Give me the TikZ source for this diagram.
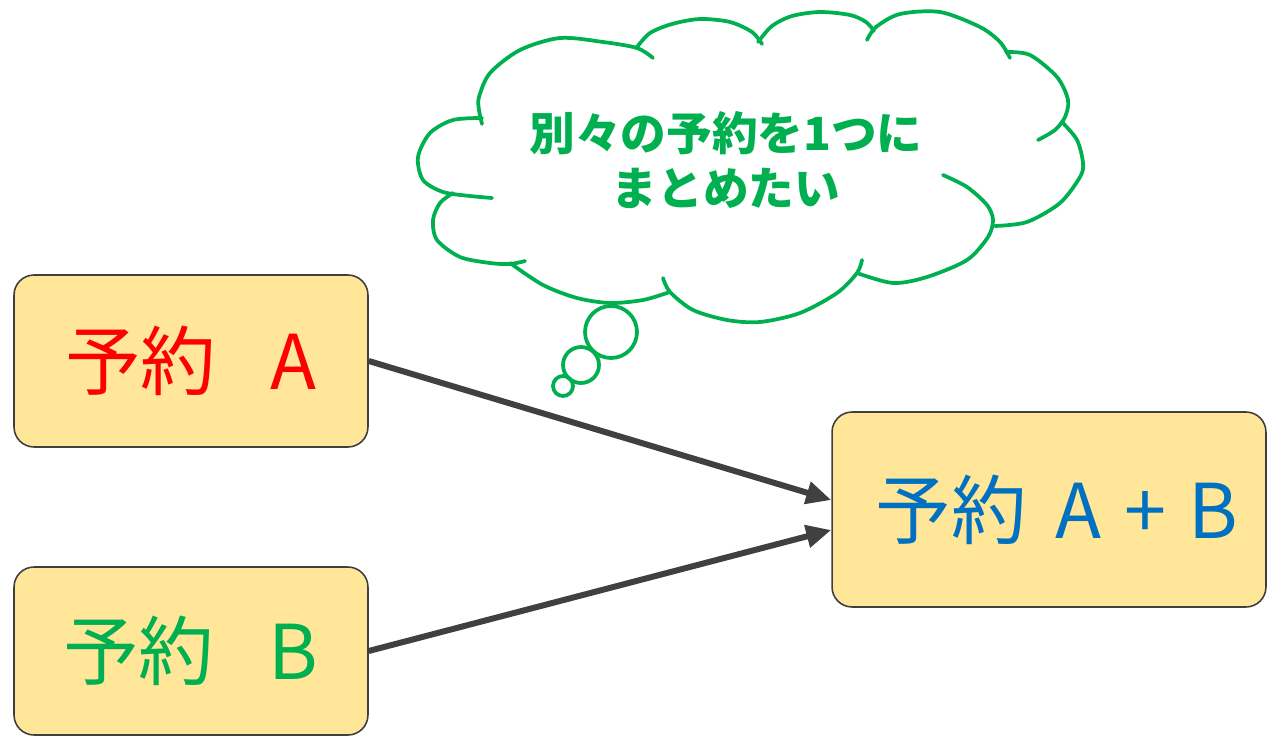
\documentclass[tikz,border=0pt]{standalone}
\usepackage{fontspec}
\setmainfont{Noto Sans CJK JP}
\usetikzlibrary{arrows.meta}
\definecolor{boxfill}{HTML}{FFE699}
\definecolor{boxline}{HTML}{3F3F3F}
\definecolor{arrowgray}{HTML}{404040}
\definecolor{cloudgreen}{HTML}{00B050}
\definecolor{txtred}{HTML}{FF0000}
\definecolor{txtblue}{HTML}{0070C0}
\begin{document}
\begin{tikzpicture}[x=0.02cm,y=-0.02cm,
  box/.style={draw=boxline,fill=boxfill,line width=0.9pt,rounded corners=0.4cm,inner sep=0pt,font=\fontsize{43}{50}\selectfont},
  arr/.style={draw=arrowgray,line width=0.12cm,-{Triangle[length=0.5cm,width=0.44cm]}},
  cloudline/.style={draw=cloudgreen,line width=0.075cm,line cap=round},
  cloudtext/.style={text=cloudgreen,align=center,inner sep=0pt,font=\bfseries\fontsize{26}{31.3}\selectfont}
  ]
\useasboundingbox (0,0) rectangle (1267,736);

% boxes
\node[box,minimum width=7.08cm,minimum height=3.44cm,text=txtred] (a) at (191,361) {予約\hspace{0.72em}A};
\node[box,minimum width=7.08cm,minimum height=3.36cm,text=cloudgreen] (b) at (191,651) {予約\hspace{0.72em}B};
\node[box,minimum width=8.68cm,minimum height=3.9cm,text=txtblue] (ab) at (1049,509.5) {\hspace{0.32cm}予約\hspace{0.38em}A\hspace{0.3em}+\hspace{0.3em}B};

% arrows
\draw[arr] (a.east) -- ([yshift=0.19cm]ab.west);
\draw[arr] (b.east) -- ([yshift=-0.41cm]ab.west);

% cloud lobes
\draw[cloudline] plot[smooth] coordinates {(482,124) (479,110) (479,97) (490,73) (520,50) (560,38) (603,42) (637,48) (653,58)};
\draw[cloudline] plot[smooth] coordinates {(637,47) (650,33) (672,24) (700,19) (730,22) (752,32) (762,44)};
\draw[cloudline] plot[smooth] coordinates {(758,42) (772,26) (792,16) (820,12) (850,15) (866,22) (874,31)};
\draw[cloudline] plot[smooth] coordinates {(867,40) (876,27) (900,14) (940,12) (980,27) (1000,42) (1010,58)};
\draw[cloudline] plot[smooth] coordinates {(1006,52) (1030,55) (1057,77) (1068,100) (1065,117) (1055,130) (1038,140)};
\draw[cloudline] plot[smooth] coordinates {(1062,122) (1077,140) (1083,163) (1080,177) (1060,203) (1027,222) (995,226)};
\draw[cloudline] plot[smooth] coordinates {(857,273) (893,283) (927,277) (967,260) (988,237) (993,220) (987,205) (967,187) (943,175)};
\draw[cloudline] plot[smooth] coordinates {(663,278) (670,292) (693,310) (727,320) (760,322) (800,313) (837,293) (857,273) (862,260)};
\draw[cloudline] plot[smooth] coordinates {(510,263) (543,285) (577,298) (610,303) (643,300) (670,292)};
\draw[cloudline] plot[smooth] coordinates {(453,193) (440,203) (433,220) (437,240) (460,257) (490,263) (510,264) (525,261)};
\draw[cloudline] plot[smooth] coordinates {(482,118) (453,120) (430,133) (418,157) (423,180) (443,192) (470,196) (492,198)};

% thought bubbles
\draw[cloudline] (611,332) circle[radius=0.52cm];
\draw[cloudline] (581,365) circle[radius=0.36cm];
\draw[cloudline] (563,386) circle[radius=0.2cm];

\node[cloudtext] (think) at (726,160) {別々の予約を1つに\\まとめたい};
\end{tikzpicture}
\end{document}
